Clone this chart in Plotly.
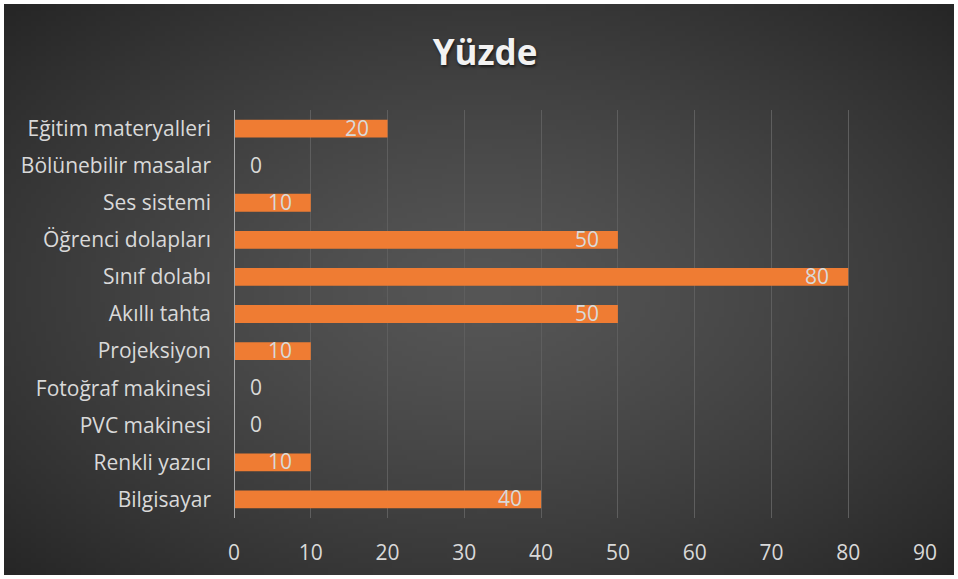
import base64, struct, zlib
import numpy as np
import plotly.graph_objects as go

categories = ["Bilgisayar", "Renkli yazıcı", "PVC makinesi", "Fotoğraf makinesi",
              "Projeksiyon", "Akıllı tahta", "Sınıf dolabı", "Öğrenci dolapları",
              "Ses sistemi", "Bölünebilir masalar", "Eğitim materyalleri"]
values = [40, 10, 0, 0, 10, 50, 80, 50, 10, 0, 20]
x_ticks = [0, 10, 20, 30, 40, 50, 60, 70, 80, 90]
title_text = "Yüzde"


def radial_png(w, h):
    yy, xx = np.mgrid[0:h, 0:w]
    cx, cy = w * 0.50, h * 0.50
    r = np.sqrt(((xx - cx) / (w * 0.5)) ** 2 + ((yy - cy) / (h * 0.5)) ** 2) / np.sqrt(2)
    r = np.clip(r, 0, 1)
    v = 86 - (86 - 38) * r ** 1.3
    img = np.clip(v, 0, 255).astype(np.uint8)
    raw = b"".join(b"\x00" + bytes(np.repeat(row, 3)) for row in img)

    def chunk(t, d):
        c = struct.pack(">I", len(d)) + t + d
        return c + struct.pack(">I", zlib.crc32(t + d) & 0xffffffff)

    png = b"\x89PNG\r\n\x1a\n" + chunk(b"IHDR", struct.pack(">IIBBBBB", w, h, 8, 2, 0, 0, 0))
    png += chunk(b"IDAT", zlib.compress(raw, 9)) + chunk(b"IEND", b"")
    return "data:image/png;base64," + base64.b64encode(png).decode()


W, H = 958, 579
ml, mr, mt, mb = 234, 33, 110, 61
pw, ph = W - ml - mr, H - mt - mb

FONT = "Open Sans"
FS = 21

fig = go.Figure(go.Bar(
    x=values, y=categories, orientation="h",
    marker=dict(color="#EF7C33", line=dict(width=0)),
    hoverinfo="x+y",
))

# data labels: inside end for non-zero bars, just right of the axis for zeros
for cat, v in zip(categories, values):
    fig.add_annotation(
        x=v, y=cat, xref="x", yref="y", text=str(v), showarrow=False,
        xanchor="right" if v > 0 else "left",
        xshift=-17 if v > 0 else 14, yshift=1,
        font=dict(family=FONT, size=FS, color="#d9d9d9"),
    )

fig.add_layout_image(dict(
    source=radial_png(192, 116), xref="paper", yref="paper",
    x=(4 - ml) / pw, y=1 + (mt - 4) / ph,
    sizex=(W - 8) / pw, sizey=(H - 8) / ph,
    sizing="stretch", layer="below", xanchor="left", yanchor="top",
))

fig.update_layout(
    width=W, height=H,
    margin=dict(l=ml, r=mr, t=mt, b=mb, autoexpand=False),
    paper_bgcolor="white", plot_bgcolor="rgba(0,0,0,0)",
    bargap=0.52,
    showlegend=False,
    title=dict(text="<b>" + title_text + "</b>", x=485 / W, xanchor="center",
               xref="container", yref="container",
               y=1 - 53 / H, yanchor="middle",
               font=dict(family=FONT, size=35, color="#f2f2f2",
                         shadow="1px 2px 3px rgba(0,0,0,0.6)")),
    xaxis=dict(range=[0, 90], tickvals=x_ticks, ticktext=[str(t) for t in x_ticks],
               showgrid=True, gridcolor="#5e5e5e", gridwidth=1, zeroline=False,
               showline=False, ticks="", ticklabelstandoff=20, automargin=False,
               tickfont=dict(family=FONT, size=FS, color="#d9d9d9")),
    yaxis=dict(showgrid=False, zeroline=False, showline=False, ticks="",
               ticklabelstandoff=22, automargin=False,
               tickfont=dict(family=FONT, size=FS, color="#d9d9d9")),
)
fig.add_shape(type="line", xref="x", yref="paper", x0=0, x1=0, y0=0, y1=1,
              line=dict(color="#a6a6a6", width=2), layer="above")

fig.write_html("out.html", config={"displayModeBar": False},
               post_script="document.body.style.margin='0';document.body.style.overflow='hidden';")
